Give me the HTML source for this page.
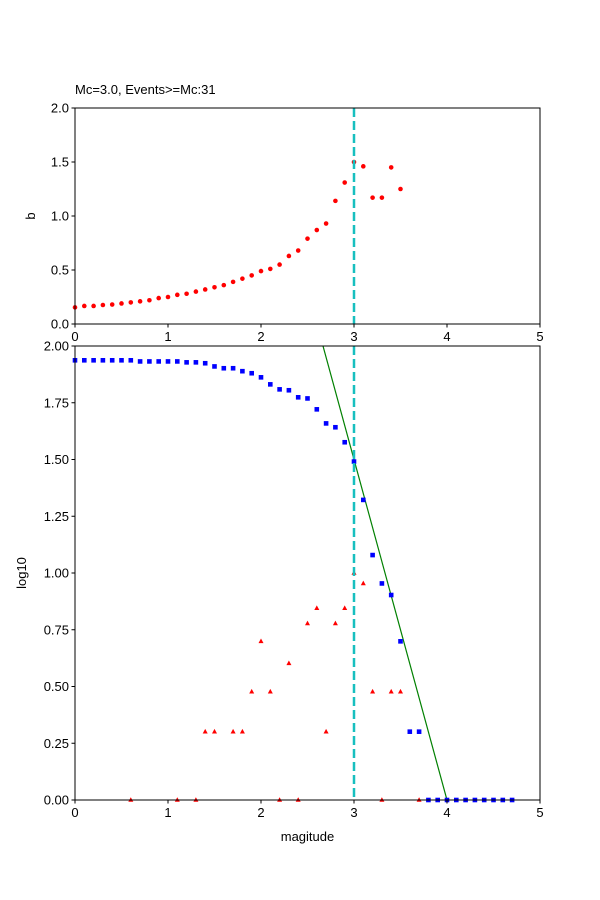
<!DOCTYPE html>
<html><head><meta charset="utf-8"><style>
html,body{margin:0;padding:0;background:#fff;overflow:hidden;width:600px;height:900px}
svg{display:block;font-family:"Liberation Sans","DejaVu Sans",sans-serif}
</style></head><body>
<svg id="chart" width="600" height="900" viewBox="0 0 600 900" xmlns="http://www.w3.org/2000/svg">
<rect x="0" y="0" width="600" height="900" fill="#fff"/>
<text x="75" y="94" font-size="13">Mc=3.0, Events&gt;=Mc:31</text>
<g id="top"></g>
<g id="bot"></g>
<text transform="translate(35,216) rotate(-90)" text-anchor="middle" font-size="13">b</text>
<text transform="translate(26,573) rotate(-90)" text-anchor="middle" font-size="13">log10</text>
<text x="307.5" y="841" text-anchor="middle" font-size="13">magitude</text>
</svg>
<script>
const bMags = [0,0.1,0.2,0.3,0.4,0.5,0.6,0.7,0.8,0.9,1.0,1.1,1.2,1.3,1.4,1.5,1.6,1.7,1.8,1.9,2.0,2.1,2.2,2.3,2.4,2.5,2.6,2.7,2.8,2.9,3.0,3.1,3.2,3.3,3.4,3.5];
const bValues = [0.154,0.167,0.167,0.176,0.18,0.19,0.2,0.21,0.22,0.24,0.25,0.27,0.28,0.30,0.32,0.34,0.36,0.39,0.42,0.45,0.49,0.51,0.55,0.63,0.68,0.79,0.87,0.93,1.14,1.31,1.50,1.46,1.17,1.17,1.45,1.25];
const cumMags = [0,0.1,0.2,0.3,0.4,0.5,0.6,0.7,0.8,0.9,1.0,1.1,1.2,1.3,1.4,1.5,1.6,1.7,1.8,1.9,2.0,2.1,2.2,2.3,2.4,2.5,2.6,2.7,2.8,2.9,3.0,3.1,3.2,3.3,3.4,3.5,3.6,3.7,3.8,3.9,4.0,4.1,4.2,4.3,4.4,4.5,4.6,4.7];
const cumLog = [1.937,1.937,1.937,1.937,1.937,1.937,1.937,1.932,1.932,1.932,1.932,1.932,1.928,1.928,1.924,1.91,1.902,1.902,1.889,1.880,1.862,1.831,1.809,1.805,1.774,1.769,1.721,1.659,1.642,1.576,1.491,1.322,1.079,0.954,0.903,0.699,0.301,0.301,0,0,0,0,0,0,0,0,0,0];
const nonMags = [0.6,1.1,1.3,1.4,1.5,1.7,1.8,1.9,2.0,2.1,2.2,2.3,2.4,2.5,2.6,2.7,2.8,2.9,3.0,3.1,3.2,3.3,3.4,3.5,3.7];
const nonLog = [0,0,0,0.301,0.301,0.301,0.301,0.477,0.699,0.477,0,0.602,0,0.778,0.845,0.301,0.778,0.845,1.0,0.954,0.477,0,0.477,0.477,0];
const fitA = 6.0, fitB = 1.5, mc = 3.0;
const xTicks = [0,1,2,3,4,5];
const topYTicks = ["0.0","0.5","1.0","1.5","2.0"];
const botYTicks = ["0.00","0.25","0.50","0.75","1.00","1.25","1.50","1.75","2.00"];

const NS="http://www.w3.org/2000/svg";
function mk(tag,attrs,parent){const e=document.createElementNS(NS,tag);for(const k in attrs)e.setAttribute(k,attrs[k]);parent.appendChild(e);return e;}
const L=75,R=540;
const xs=v=>L+(R-L)*v/5;
const T={top:108,bot:324,max:2}, B={top:346,bot:800,max:2};
const ysT=v=>T.bot-(T.bot-T.top)*v/T.max;
const ysB=v=>B.bot-(B.bot-B.top)*v/B.max;
const gt=document.getElementById('top'), gb=document.getElementById('bot');
const svg=document.getElementById('chart');

const defs=mk('defs',{},svg);
const cp=mk('clipPath',{id:'clipB'},defs); mk('rect',{x:L,y:B.top,width:R-L,height:B.bot-B.top},cp);

bMags.forEach((m,i)=>{
  const c=mk('circle',{cx:xs(m),cy:ysT(bValues[i]),r:2.3,fill:'#ff0000'},gt);
  
  
});
const l1=mk('line',{x1:xs(mc),x2:xs(mc),y1:T.top,y2:T.bot,stroke:'#17bfbf','stroke-width':2.5,'stroke-dasharray':'9,4'},gt);



const gfit=mk('g',{'clip-path':'url(#clipB)'},gb);
const fl=mk('line',{x1:xs(0),y1:ysB(fitA),x2:xs(5),y2:ysB(fitA-fitB*5),stroke:'#008000','stroke-width':1.2},gfit);


nonMags.forEach((m,i)=>{
  const x=xs(m),y=ysB(nonLog[i]);
  const p=mk('polygon',{points:`${x},${y-2.8} ${x-2.5},${y+1.8} ${x+2.5},${y+1.8}`,fill:'#ff0000'},gb);
  
  
});
cumMags.forEach((m,i)=>{
  const r=mk('rect',{x:xs(m)-2.3,y:ysB(cumLog[i])-2.3,width:4.6,height:4.6,fill:'#0000ff'},gb);
  
  
});
const l2=mk('line',{x1:xs(mc),x2:xs(mc),y1:B.top,y2:B.bot,stroke:'#17bfbf','stroke-width':2.5,'stroke-dasharray':'9,4'},gb);



function axes(g,Y,ys,yTicks){
  const f=mk('rect',{x:L,y:Y.top,width:R-L,height:Y.bot-Y.top,fill:'none',stroke:'#000','stroke-width':1},g);
  
  
  xTicks.forEach(t=>{
    const x=xs(t);
    mk('line',{x1:x,x2:x,y1:Y.bot,y2:Y.bot+3.5,stroke:'#000'},g);
    const tx=mk('text',{x:x,y:Y.bot+17,'text-anchor':'middle','font-size':13},g);
    tx.textContent=t;
    
    
  });
  yTicks.forEach(s=>{
    const y=ys(parseFloat(s));
    mk('line',{x1:L-3.5,x2:L,y1:y,y2:y,stroke:'#000'},g);
    const tx=mk('text',{x:L-6,y:y+4.5,'text-anchor':'end','font-size':13},g);
    tx.textContent=s;
    
    
  });
}
axes(gt,T,ysT,topYTicks);
axes(gb,B,ysB,botYTicks);
</script>
</body></html>
